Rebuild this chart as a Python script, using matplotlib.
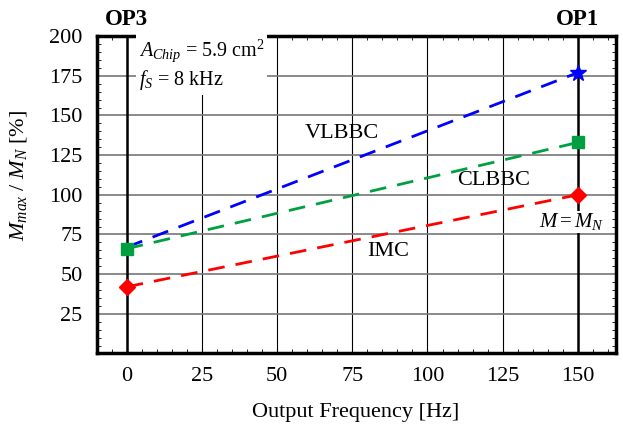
import matplotlib.pyplot as plt
from matplotlib.ticker import MultipleLocator

plt.rcParams['font.family'] = ['Liberation Serif', 'DejaVu Serif']
plt.rcParams['mathtext.fontset'] = 'custom'
plt.rcParams['mathtext.rm'] = 'Liberation Serif'
plt.rcParams['mathtext.it'] = 'Liberation Serif:italic'

# operating points OP3 (0 Hz) and OP1 (150 Hz)
freq = [0, 150]
vlbbc = [67, 177]
clbbc = [66, 133]
imc = [42, 100]

fig, ax = plt.subplots(figsize=(6.23, 4.3), dpi=100)
fig.subplots_adjust(left=0.155, right=0.988, top=0.916, bottom=0.178)

ax.set_xlim(-10, 162.5)
ax.set_ylim(0, 200)
ax.xaxis.set_major_locator(MultipleLocator(25))
ax.xaxis.set_minor_locator(MultipleLocator(5))
ax.yaxis.set_minor_locator(MultipleLocator(5))
ax.set_yticks(range(25, 201, 25))
ax.tick_params(which='both', direction='in', labelsize=16, top=True, right=True)
ax.tick_params(which='major', length=0, pad=10)
ax.tick_params(which='minor', length=3)
for s in ax.spines.values():
    s.set_linewidth(2.5)

ax.grid(axis='y', color='#777777', lw=1.2)
ax.grid(axis='x', color='black', lw=0.8)
ax.set_axisbelow(True)
for x0 in freq:
    ax.axvline(x0, color='black', lw=1.8, zorder=1)

ax.plot(freq, vlbbc, '--', color='#0000ff', lw=2, dashes=(6, 4), zorder=3)
ax.plot(freq[1], vlbbc[1], '*', color='#0000ff', ms=12, zorder=4)
ax.plot(freq, clbbc, '--', color='#00a040', lw=2, dashes=(6, 4), zorder=3)
ax.plot(freq, clbbc, 's', color='#00a040', ms=9, zorder=4)
ax.plot(freq, imc, '--', color='#ff0000', lw=2, dashes=(6, 4), zorder=3)
ax.plot(freq, imc, 'D', color='#ff0000', ms=8, zorder=4)

ax.text(71.5, 138.5, 'VLBBC', fontsize=16, ha='center', va='center')
ax.text(122, 109, 'CLBBC', fontsize=16, ha='center', va='center')
ax.text(87, 64, 'IMC', fontsize=16, ha='center', va='center')
ax.text(148, 83, r'$M = M_N$', fontsize=15, ha='center', va='center', zorder=5,
        bbox=dict(facecolor='white', edgecolor='none', pad=0.5))
ax.text(4, 182, '$A_{Chip}$ = 5.9 cm$^2$\n$f_S$ = 8 kHz', fontsize=14.5, ha='left',
        va='center', linespacing=1.2,
        bbox=dict(facecolor='white', edgecolor='none', pad=2))

ax.text(0, 1.02, 'OP3', transform=ax.get_xaxis_transform(), ha='center', va='bottom',
        fontsize=16.5, fontweight='bold')
ax.text(150, 1.02, 'OP1', transform=ax.get_xaxis_transform(), ha='center', va='bottom',
        fontsize=16.5, fontweight='bold')

ax.set_xlabel('Output Frequency [Hz]', fontsize=16, labelpad=12)
ax.set_ylabel('$M_{max}$ / $M_N$ [%]', fontsize=16)
ax.yaxis.set_label_coords(-0.13, 0.56)

fig.savefig('out.png')
